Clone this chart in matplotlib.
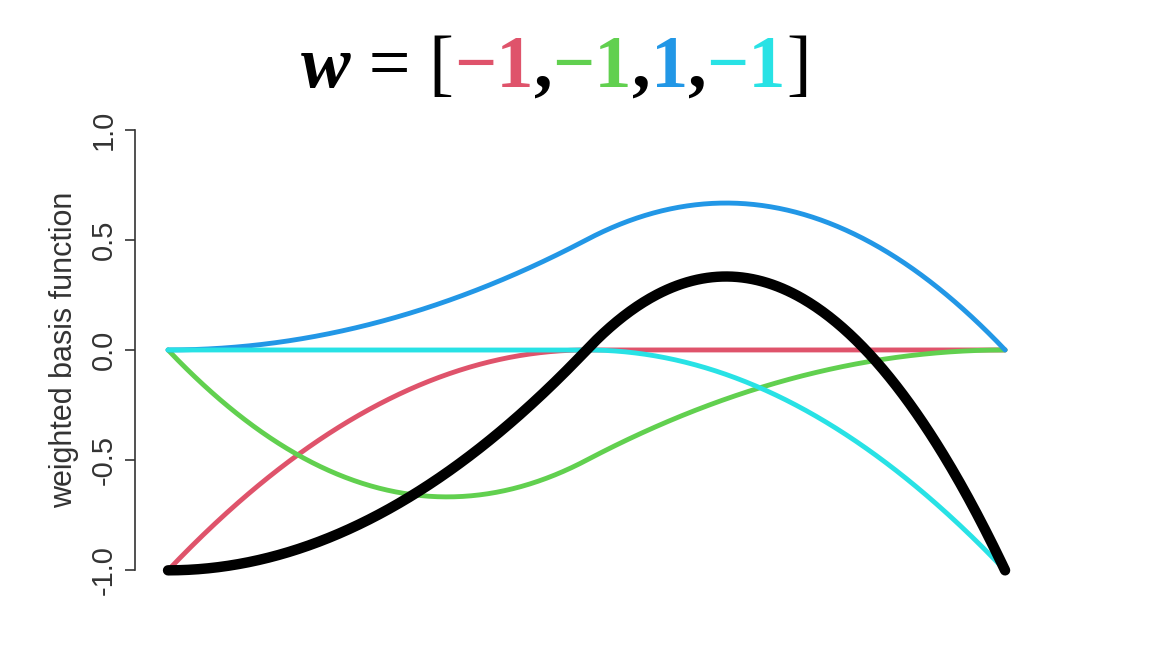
import numpy as np
import matplotlib
matplotlib.use("Agg")
import matplotlib.pyplot as plt

# Data: quadratic B-spline basis on [0, 1] and the weights shown in the title
knots = [0, 0, 0, 0.5, 1, 1, 1]
degree = 2
weights = [-1, -1, 1, -1]
weight_labels = ["\u22121", "\u22121", "1", "\u22121"]
colors = ["#DF536B", "#61D04F", "#2297E6", "#28E2E5"]


def bspline_basis(i, k, t, x):
    # Cox-de Boor recursion
    if k == 0:
        out = ((x >= t[i]) & (x < t[i + 1])).astype(float)
        if t[i + 1] == t[-1] and t[i] < t[i + 1]:
            out[x == t[-1]] = 1.0
        return out
    out = np.zeros_like(x)
    if t[i + k] > t[i]:
        out += (x - t[i]) / (t[i + k] - t[i]) * bspline_basis(i, k - 1, t, x)
    if t[i + k + 1] > t[i + 1]:
        out += (t[i + k + 1] - x) / (t[i + k + 1] - t[i + 1]) * bspline_basis(i + 1, k - 1, t, x)
    return out


x = np.linspace(0, 1, 501)
basis = [bspline_basis(i, degree, knots, x) for i in range(len(weights))]

fig = plt.figure(figsize=(11.63, 6.64), dpi=100)
ax = fig.add_axes([0.1157, 0.1145, 0.7773, 0.7169])

total = np.zeros_like(x)
for w, b, c in zip(weights, basis, colors):
    ax.plot(x, w * b, color=c, lw=3.5, solid_capstyle="round")
    total += w * b
ax.plot(x, total, color="black", lw=7.5, solid_capstyle="round")

ax.set_xlim(-0.04, 1.04)
ax.set_ylim(-1.08, 1.08)
ax.set_xticks([])
ax.set_yticks([-1.0, -0.5, 0.0, 0.5, 1.0])
ax.set_yticklabels(["-1.0", "-0.5", "0.0", "0.5", "1.0"], rotation=90, va="center",
                   family="Liberation Sans", fontsize=21, color="#333333")
ax.tick_params(axis="y", length=7, width=1.2, color="#333333", pad=5)
for s in ["top", "right", "bottom"]:
    ax.spines[s].set_visible(False)
ax.spines["left"].set_bounds(-1, 1)
ax.spines["left"].set_linewidth(1.2)
ax.spines["left"].set_color("#333333")
ax.set_ylabel("weighted basis function", family="Liberation Sans", fontsize=22,
              color="#333333", labelpad=8)

# Title built piece by piece so each weight gets its colour
pieces = [("w", "black", "bold", "italic"), (" = [", "black", "normal", "normal")]
for i, (lab, c) in enumerate(zip(weight_labels, colors)):
    pieces.append((lab, c, "bold", "normal"))
    if i < len(weight_labels) - 1:
        pieces.append((",", "black", "bold", "normal"))
pieces.append(("]", "black", "normal", "normal"))

renderer = fig.canvas.get_renderer()
tx, ty = 301 / 1163, 0.869
for s, c, wt, st in pieces:
    t = fig.text(tx, ty, s, color=c, fontsize=53.5, family="Liberation Serif",
                 weight=wt, style=st, va="baseline", ha="left")
    bb = t.get_window_extent(renderer)
    tx += bb.width / fig.bbox.width

fig.savefig("out.png", dpi=100)
